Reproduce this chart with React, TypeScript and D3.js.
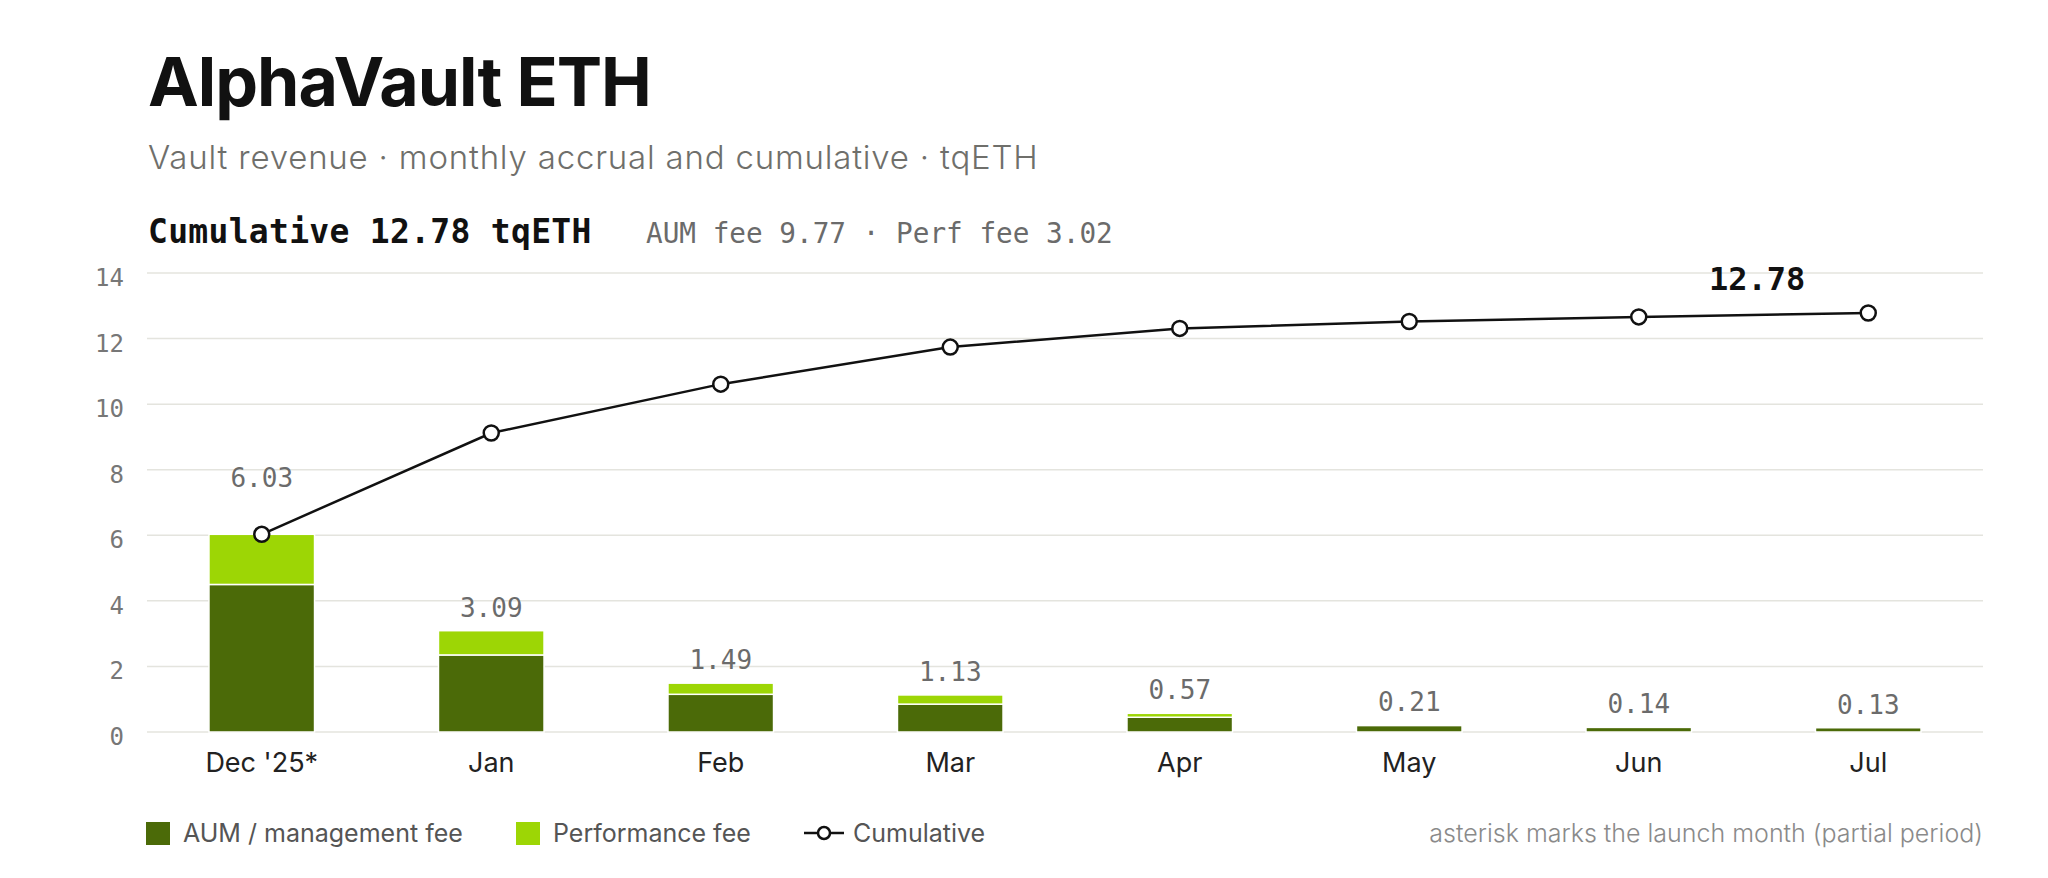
import * as d3 from 'd3';

const months = ["Dec '25*", 'Jan', 'Feb', 'Mar', 'Apr', 'May', 'Jun', 'Jul'];
const aumFee = [4.5, 2.35, 1.15, 0.85, 0.45, 0.2, 0.14, 0.13];
const perfFee = [1.53, 0.74, 0.34, 0.28, 0.12, 0.01, 0, 0];
const monthTotals = [6.03, 3.09, 1.49, 1.13, 0.57, 0.21, 0.14, 0.13];
const cumulative = [6.03, 9.12, 10.61, 11.74, 12.31, 12.52, 12.66, 12.78];
const yTicks = [0, 2, 4, 6, 8, 10, 12, 14];

const W = 2048;
const H = 878;
const left = 147;
const right = 1983;
const top = 273;
const bottom = 732;

const SANS = 'Inter, "DejaVu Sans", sans-serif';
const MONO = '"DejaVu Sans Mono", "Liberation Mono", monospace';
const DARK = '#4b6a08';
const LIME = '#9dd605';

type Row = { month: string; aum: number; perf: number };

export default function App() {
  const rows: Row[] = months.map((m, i) => ({ month: m, aum: aumFee[i], perf: perfFee[i] }));
  const x = d3.scaleBand<string>().domain(months).range([left, right]).padding(0);
  const y = d3.scaleLinear().domain([0, 14]).range([bottom, top]);
  const barW = x.bandwidth() * 0.46;
  const cx = (m: string) => (x(m) ?? 0) + x.bandwidth() / 2;

  const series = d3.stack<Row>().keys(['aum', 'perf'])(rows);
  const colors = [DARK, LIME];

  const line = d3
    .line<number>()
    .x((_, i) => cx(months[i]))
    .y((d) => y(d));

  const last = cumulative.length - 1;

  return (
    <svg
      width={W}
      height={H}
      viewBox={`0 0 ${W} ${H}`}
      style={{ position: 'absolute', left: 0, top: 0, background: '#fff' }}
    >
      <text x={148} y={106} fontFamily={SANS} fontWeight={700} fontSize={68} letterSpacing={-1} fill="#111">
        AlphaVault ETH
      </text>
      <text x={148} y={169} fontFamily={SANS} fontWeight={300} fontSize={33} letterSpacing={0.8} fill="#6f6f6b">
        Vault revenue · monthly accrual and cumulative · tqETH
      </text>
      <text x={148} y={243} fontFamily={MONO} fontWeight={700} fontSize={33} letterSpacing={0.3} fill="#111">
        Cumulative 12.78 tqETH
      </text>
      <text x={646} y={243} fontFamily={MONO} fontSize={27.7} fill="#6b6b6b">
        AUM fee 9.77 · Perf fee 3.02
      </text>

      {yTicks.map((t) => (
        <g key={t}>
          <line x1={left} x2={right} y1={y(t)} y2={y(t)} stroke="#e4e4de" strokeWidth={1.5} />
          <text
            x={124}
            y={y(t) + 6}
            textAnchor="end"
            dominantBaseline="middle"
            fontFamily={MONO}
            fontSize={24}
            fill="#777"
          >
            {t}
          </text>
        </g>
      ))}

      {series.map((s, si) =>
        s.map((d, i) =>
          d[1] - d[0] > 0 ? (
            <rect
              key={`${si}-${i}`}
              x={cx(months[i]) - barW / 2}
              y={y(d[1])}
              width={barW}
              height={y(d[0]) - y(d[1])}
              fill={colors[si]}
              stroke="#fff"
              strokeWidth={1.5}
            />
          ) : null
        )
      )}

      {monthTotals.map((v, i) => {
        const barTop = y(v);
        const pt = y(cumulative[i]);
        const ly = Math.abs(pt - barTop) < 30 ? pt - 47 : barTop - 14;
        return (
          <text
            key={i}
            x={cx(months[i])}
            y={ly}
            textAnchor="middle"
            fontFamily={MONO}
            fontSize={26}
            fill="#6b6b6b"
          >
            {v.toFixed(2)}
          </text>
        );
      })}

      <path d={line(cumulative) ?? ''} fill="none" stroke="#111" strokeWidth={2.5} />
      {cumulative.map((v, i) => (
        <circle key={i} cx={cx(months[i])} cy={y(v)} r={7.5} fill="#fff" stroke="#111" strokeWidth={2.5} />
      ))}
      <text
        x={cx(months[last]) - 63}
        y={y(cumulative[last]) - 23}
        textAnchor="end"
        fontFamily={MONO}
        fontWeight={700}
        fontSize={32}
        fill="#111"
      >
        {cumulative[last].toFixed(2)}
      </text>

      {months.map((m) => (
        <text key={m} x={cx(m)} y={772} textAnchor="middle" fontFamily={SANS} fontSize={27} fill="#222">
          {m}
        </text>
      ))}

      <rect x={146} y={822} width={24} height={23} fill={DARK} />
      <text x={183} y={842} fontFamily={SANS} fontSize={25} fill="#555">
        AUM / management fee
      </text>
      <rect x={516} y={822} width={24} height={23} fill={LIME} />
      <text x={553} y={842} fontFamily={SANS} fontSize={25} fill="#555">
        Performance fee
      </text>
      <line x1={804} x2={844} y1={833} y2={833} stroke="#111" strokeWidth={2.5} />
      <circle cx={824} cy={833} r={6} fill="#fff" stroke="#111" strokeWidth={2.5} />
      <text x={853} y={842} fontFamily={SANS} fontSize={25} fill="#555">
        Cumulative
      </text>
      <text x={1983} y={842} textAnchor="end" fontFamily={SANS} fontWeight={300} fontSize={25} fill="#8a8a8a">
        asterisk marks the launch month (partial period)
      </text>
    </svg>
  );
}
